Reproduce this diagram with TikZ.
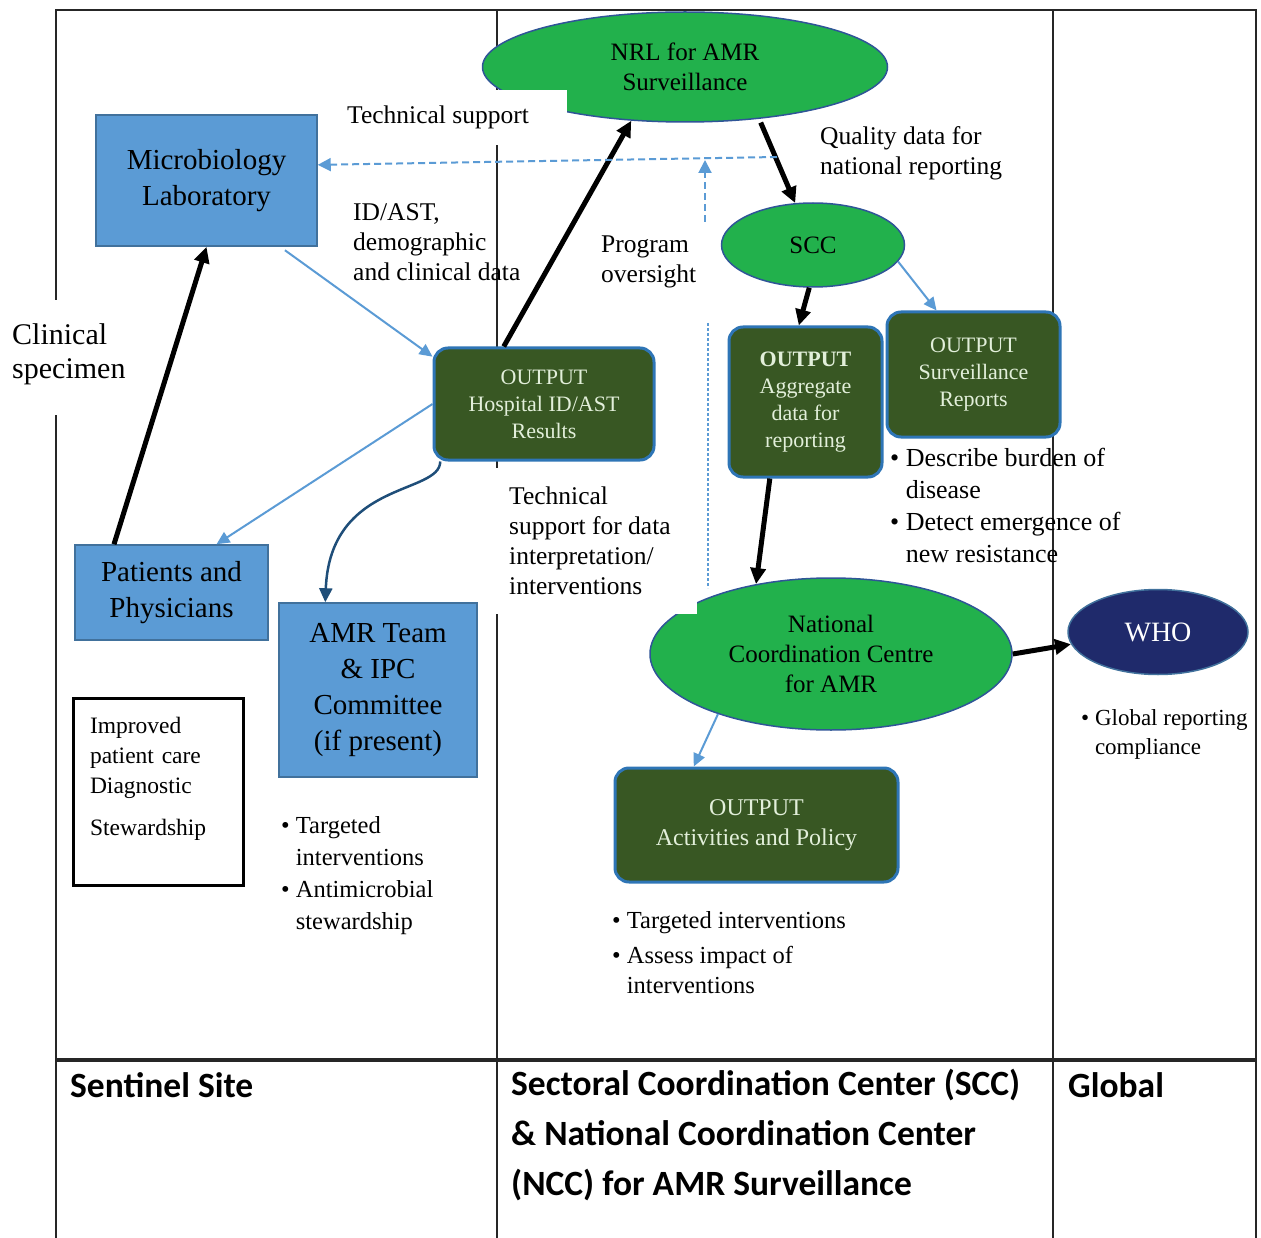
\documentclass[tikz,border=0pt]{standalone}
\usepackage{fontspec}
\setmainfont{Liberation Serif}
\newfontfamily\calfont{Carlito}
\usetikzlibrary{shapes.geometric,arrows.meta}

\definecolor{boxblue}{HTML}{5B9BD5}
\definecolor{boxedge}{HTML}{41719C}
\definecolor{outgreen}{HTML}{385723}
\definecolor{outedge}{HTML}{2E75B6}
\definecolor{outtext}{HTML}{E2EFDA}
\definecolor{ellgreen}{HTML}{22B14C}
\definecolor{elledge}{HTML}{2F5597}
\definecolor{navy}{HTML}{1F2A6B}
\definecolor{curveblue}{HTML}{1F4E79}

\tikzset{
  grid/.style={line width=2pt, black!85},
  bluebox/.style={draw=boxedge, fill=boxblue, line width=1.5pt, inner sep=0pt, align=center,
    font=\fontsize{29}{36}\selectfont},
  outbox/.style={draw=outedge, fill=outgreen, line width=3pt, rounded corners=14pt, inner sep=0pt,
    align=center, text=outtext, font=\fontsize{22}{27}\selectfont},
  greenell/.style={ellipse, draw=elledge, fill=ellgreen, line width=1.5pt, inner sep=0pt, align=center,
    font=\fontsize{25}{30}\selectfont},
  lbl/.style={anchor=west, align=left, inner sep=0pt, font=\fontsize{25.5}{30}\selectfont},
  foot/.style={anchor=west, align=left, inner sep=0pt, font=\calfont\bfseries\fontsize{35.5}{50}\selectfont},
  blk/.style={-{Triangle[length=16pt,width=15pt]}, line width=5pt},
  blu/.style={-{Triangle[length=13pt,width=12pt]}, boxblue, line width=2pt},
  darkarr/.style={-{Triangle[length=14pt,width=13pt]}, curveblue, line width=2.5pt},
  dashblu/.style={-{Triangle[length=13pt,width=13pt]}, boxblue, line width=2pt, dash pattern=on 7pt off 4pt},
  dotblu/.style={boxblue, line width=2pt, dash pattern=on 3pt off 2pt}
}

\begin{document}
\begin{tikzpicture}[x=1pt,y=-1pt]
  \useasboundingbox (0,0) rectangle (1261,1238);

  \draw[grid] (56,1238) -- (56,10) -- (1256,10) -- (1256,1238);
  \draw[grid] (497,10) -- (497,1238);
  \draw[grid] (1053,10) -- (1053,1238);
  \draw[grid, line width=3.5pt] (56,1060) -- (1256,1060);

  \node[greenell, minimum width=405pt, minimum height=110pt] (nrl) at (685,67) {NRL for AMR\\Surveillance};
  \node[greenell, minimum width=183pt, minimum height=84pt] (scc) at (813,245) {SCC};
  \node[greenell, minimum width=362pt, minimum height=152pt] (ncc) at (831,654) {National\\Coordination Centre\\for AMR};
  \node[greenell, fill=navy, draw=boxedge, text=white, minimum width=180pt, minimum height=85pt,
    font=\fontsize{28}{32}\selectfont] (who) at (1158,632) {WHO};

  \node[bluebox, minimum width=221pt, minimum height=131pt] (micro) at (206.5,180.5) {Microbiology\\Laboratory};
  \node[bluebox, minimum width=193pt, minimum height=95pt] (pat) at (171.5,592.5) {Patients and\\Physicians};
  \node[bluebox, minimum width=198pt, minimum height=174pt] (amr) at (378,690) {AMR Team\\\& IPC\\Committee\\(if present)};

  \node[outbox, minimum width=220pt, minimum height=112pt] (hosp) at (544,404) {OUTPUT\\Hospital ID/AST\\Results};
  \node[outbox, minimum width=153pt, minimum height=150pt] (agg) at (805.5,402) {\textbf{OUTPUT}\\Aggregate\\data for\\reporting};
  \node[outbox, minimum width=173pt, minimum height=125pt] (surv) at (973.5,374.5) {OUTPUT\\Surveillance\\Reports};
  \node[outbox, minimum width=283pt, minimum height=114pt, font=\fontsize{24}{30}\selectfont] (act) at (756.5,825) {OUTPUT\\Activities and Policy};

  \node[draw, line width=3pt, minimum width=170pt, minimum height=187pt, text width=136pt, inner xsep=17pt,
    align=left, font=\fontsize{23.5}{30}\selectfont] (care) at (158,791.5)
    {Improved\\patient care\\Diagnostic\\[12pt]Stewardship\\\mbox{}};

  \fill[white] (0,300) rectangle (135,415);
  \fill[white] (335,90) rectangle (567,145);
  \fill[white] (490,468) rectangle (697,614);

  \node[lbl] (tsup) at (347,117) {Technical support};
  \node[lbl] (qual) at (820,153) {Quality data for\\national reporting};
  \node[lbl] (idast) at (353,242) {ID/AST,\\demographic\\and clinical data};
  \node[lbl] (prog) at (601,262) {Program\\oversight};
  \node[lbl, font=\fontsize{30}{34}\selectfont] (clin) at (12,354) {Clinical\\specimen};
  \node[lbl] (tsdata) at (509,541) {Technical\\support for data\\interpretation/\\interventions};
  \node[lbl, font=\fontsize{26}{32}\selectfont] (burden) at (890,505)
    {\textbullet~Describe burden of\\\phantom{\textbullet~}disease\\\textbullet~Detect emergence of\\\phantom{\textbullet~}new resistance};
  \node[lbl, font=\fontsize{24.5}{32}\selectfont] (stew) at (281,876)
    {\textbullet~Targeted\\\phantom{\textbullet~}interventions\\\textbullet~Antimicrobial\\\phantom{\textbullet~}stewardship};
  \node[lbl, font=\fontsize{24.5}{30}\selectfont] (impact) at (612,953)
    {\textbullet~Targeted interventions\\[5pt]\textbullet~Assess impact of\\\phantom{\textbullet~}interventions};
  \node[lbl, font=\fontsize{23}{29}\selectfont] (glob) at (1081,734)
    {\textbullet~Global reporting\\\phantom{\textbullet~}compliance};

  \node[foot] (sent) at (70,1085) {Sentinel Site};
  \node[foot] (sect) at (511,1135) {Sectoral Coordination Center (SCC)\\\& National Coordination Center\\(NCC) for AMR Surveillance};
  \node[foot] (glb) at (1068,1085) {Global};

  \draw[blk] (pat.140) -- (micro.south);
  \draw[blk] (hosp.125) -- (nrl.225);
  \draw[blk, shorten <=4pt] (nrl.325) -- (scc.113);
  \draw[blk] (scc.265) -- (agg.95);
  \draw[blk] (agg.245) -- (ncc.137);
  \draw[blk] (ncc.east) -- (who.188);
  \draw[blu, shorten <=6pt] (micro.318) -- (hosp.157);
  \draw[blu] (hosp.180) -- (pat.47);
  \draw[blu] (scc.349) -- (surv.120);
  \draw[blu] (ncc.208) -- (act.137);
  \draw[darkarr] (hosp.209) .. controls (440,495) and (330,480) .. (amr.121);

  \coordinate (tsend) at (777,157);
  \coordinate (pobot) at (705,222);
  \coordinate (potop) at (705,160);
  \coordinate (dtop) at (708,323);
  \coordinate (dbot) at (708,588);
  \draw[dashblu] (tsend) -- (micro.8);
  \draw[dashblu] (pobot) -- (potop);
  \draw[dotblu] (dtop) -- (dbot);
\end{tikzpicture}
\end{document}
